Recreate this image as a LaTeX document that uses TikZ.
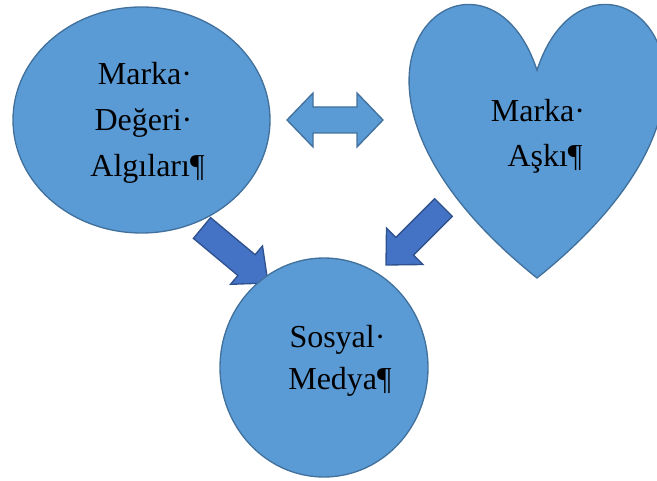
\documentclass[tikz,border=0pt]{standalone}
\usepackage{fontspec}
\setmainfont{Liberation Serif}
\usetikzlibrary{shapes.geometric}
\definecolor{shapefill}{RGB}{91,155,213}
\definecolor{shapeline}{RGB}{65,113,156}
\definecolor{arrowfill}{RGB}{68,114,196}
\definecolor{arrowline}{RGB}{47,82,143}
\begin{document}
\begin{tikzpicture}[x=0.75pt,y=-0.75pt,
  shapestyle/.style={fill=shapefill,draw=shapeline,line width=1pt,inner sep=0pt},
  blockarrow/.style={fill=arrowfill,draw=arrowline,line width=1pt,line join=miter},
  dblarrow/.style={fill=shapefill,draw=shapeline,line width=1pt,line join=miter},
  lbl/.style={font=\fontsize{24}{28}\selectfont,anchor=base,inner sep=0pt}]
\useasboundingbox (0,0) rectangle (657,481);
\clip (0,0) rectangle (657,481);

% block arrows (drawn beneath the shapes)
\draw[blockarrow] (193.4,238.4) -- (210.6,217.6) -- (255.1,254.7) -- (262.5,245.9)
  -- (268,283) -- (230.5,284.3) -- (237.9,275.5) -- cycle;
\draw[blockarrow] (434.7,198.7) -- (452.3,216.3) -- (413.5,255.1) -- (423,264.5)
  -- (386,265) -- (386.5,228.1) -- (395.9,237.5) -- cycle;

% double arrow
\draw[dblarrow] (287,120) -- (313,93) -- (313,107) -- (357,107) -- (357,93) -- (383,120)
  -- (357,147) -- (357,133) -- (313,133) -- (313,147) -- cycle;

% ellipse
\node[shapestyle,ellipse,minimum width=192.75pt,minimum height=169.5pt] (deger) at (141.5,120) {};
% circle
\node[shapestyle,ellipse,minimum width=156pt,minimum height=164.25pt] (medya) at (324,367.5) {};
% heart
\draw[shapestyle] (537,70.25) .. controls (589.9,-91.3) and (796.3,70.25) .. (537,278)
  .. controls (277.7,70.25) and (484.1,-91.3) .. (537,70.25) -- cycle;
\coordinate (ask) at (537,150);

% texts
\node[lbl] (d1) at (145,85) {Marka·};
\node[lbl] (d2) at (143.5,131) {Değeri·};
\node[lbl] (d3) at (147.5,177) {Algıları¶};
\node[lbl] (a1) at (538,122) {Marka·};
\node[lbl] (a2) at (545,167) {Aşkı¶};
\node[lbl] (m1) at (337.5,347) {Sosyal·};
\node[lbl] (m2) at (340,389) {Medya¶};
\end{tikzpicture}
\end{document}
